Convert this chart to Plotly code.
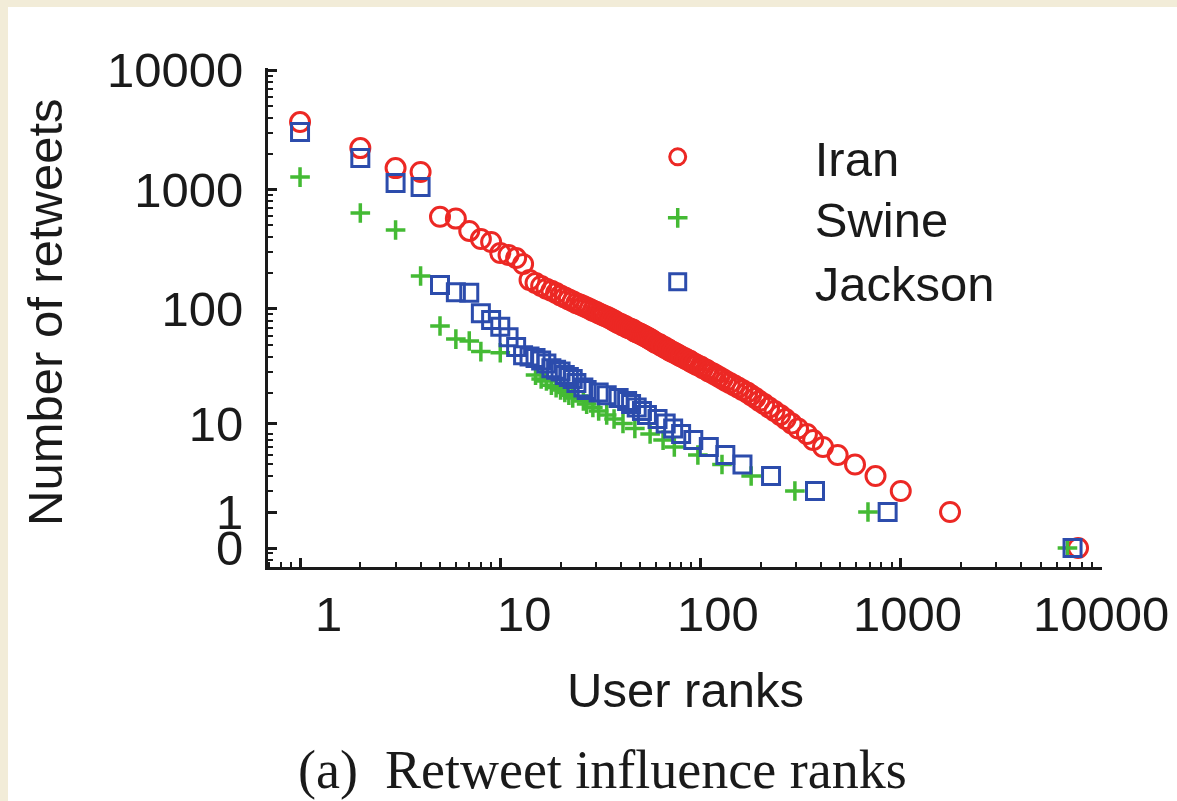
import numpy as np
import plotly.graph_objects as go

# ---------------- data ----------------
iran_rank = [1, 2, 3, 4, 5, 6, 7, 8, 9, 10, 11, 12, 13, 14, 15,
             16, 17, 18, 19, 20, 21, 22, 23, 24, 25, 26, 27, 28, 29, 30,
             31, 32, 33, 34, 35, 36, 37, 38, 39, 40, 41, 42, 43, 44, 45,
             46, 47, 48, 49, 50, 51, 52, 53, 54, 55, 56, 57, 58, 59, 60,
             62, 63, 64, 66, 67, 69, 70, 72, 74, 76, 78, 80, 83, 85, 88,
             90, 93, 96, 100, 103, 107, 110, 115, 119, 124, 129, 134, 140, 147, 154,
             162, 171, 179, 188, 197, 208, 220, 234, 250, 266, 285, 307, 340, 365,
             409, 484, 591, 748, 1000, 1762, 7680]
iran_count = [3670, 2220, 1510, 1400, 590, 570, 449, 384, 363, 293, 282, 266, 237, 174, 164,
              155, 147, 141, 135, 129, 124, 119, 115, 111, 108, 105, 102, 99, 96, 94,
              91, 89, 87, 85, 83, 81, 79, 77, 75, 74, 72, 71, 69, 68, 67,
              66, 64, 63, 62, 61, 60, 59, 58, 57, 56, 55, 54, 53, 52, 51,
              50, 49, 48, 47, 46, 45, 44, 43, 42, 41, 40, 39, 38, 37, 36,
              35, 34, 33, 32, 31, 30, 29, 28, 27, 26, 25, 24, 23, 22, 21,
              20, 19, 18, 17, 16, 15, 14, 13, 12, 11, 10, 9, 8, 7,
              6, 5, 4, 3, 2, 1, 0]

swine_rank = [1, 2, 3, 4, 5, 6, 7, 8, 10, 15, 16, 17, 18, 19, 20, 21, 22, 23,
              26, 27, 29, 31, 34, 37, 41, 47, 56, 65, 74, 97, 128, 179, 296, 686, 6800]
swine_count = [1270, 635, 457, 188, 71, 55, 53, 43, 42, 27, 25, 24, 22, 21, 20, 19, 18, 17,
               16, 15, 14, 13, 12, 11, 10, 9, 8, 7, 6, 5, 4, 3, 2, 1, 0]

jackson_rank = [1, 2, 3, 4, 5, 6, 7, 8, 9, 10, 11, 12, 13, 14, 15, 16, 17, 18, 19, 20,
                21, 22, 23, 24, 26, 27, 31, 34, 39, 43, 45, 48, 51, 54, 61, 67, 73, 80,
                92, 110, 133, 162, 225, 373, 860, 7210]
jackson_count = [3030, 1835, 1133, 1049, 158, 137, 136, 91, 80, 70, 57, 47, 40, 39, 38, 36, 34, 31, 30, 29,
                 27, 26, 25, 23, 21, 20, 19, 18, 17, 16, 15, 14, 13, 12, 11, 10, 9, 8,
                 7, 6, 5, 4, 3, 2, 1, 0]

x_tick_vals = [1, 10, 100, 1000, 10000]
x_tick_text = ["1", "10", "100", "1000", "10000"]
x_label_shift = [28, 24, 17, 7, 0]
y_tick_counts = [0, 1, 10, 100, 1000, 10000]
y_tick_text = ["0", "1", "10", "100", "1000", "10000"]

# ---------------- styling ----------------
SANS = "Liberation Sans, Arial, Helvetica, sans-serif"
SERIF = "Liberation Serif, Times New Roman, serif"
INK = "#1a1a1a"
RED = "rgb(236,40,36)"
GREEN = "rgb(68,186,52)"
BLUE = "rgb(44,76,172)"

fig = go.Figure()
# y axis is log(count+1)
fig.add_trace(go.Scatter(
    x=iran_rank, y=[c + 1 for c in iran_count], mode="markers", name="Iran", legend="legend",
    marker=dict(symbol="circle-open", size=19, color=RED, line=dict(width=3, color=RED))))
fig.add_trace(go.Scatter(
    x=swine_rank, y=[c + 1 for c in swine_count], mode="markers", name="Swine", legend="legend2",
    marker=dict(symbol="cross-thin-open", size=14, color=GREEN, line=dict(width=3.5, color=GREEN))))
fig.add_trace(go.Scatter(
    x=jackson_rank, y=[c + 1 for c in jackson_count], mode="markers", name="Jackson", legend="legend3",
    marker=dict(symbol="square-open", size=17, color=BLUE, line=dict(width=3, color=BLUE))))

x_minor = [m * 10 ** d for d in range(-1, 4) for m in range(2, 10) if m * 10 ** d > 0.69]
y_minor = [m * 10 ** d for d in range(-1, 4) for m in range(2, 10)
           if m * 10 ** d > 0.69 and not (d == 0 and m == 2)]

fig.update_xaxes(
    type="log", range=[-0.16, 4.005],
    tickvals=x_tick_vals, showticklabels=False,
    ticks="inside", ticklen=9, tickwidth=2.5, tickcolor=INK,
    showline=True, linewidth=3, linecolor=INK, mirror=False,
    showgrid=False, zeroline=False,
    minor=dict(tickvals=x_minor, ticks="inside", ticklen=5, tickwidth=2, tickcolor=INK, showgrid=False),
)
fig.update_yaxes(
    type="log", range=[-0.159, 4.017],
    tickvals=[c + 1 for c in y_tick_counts], ticktext=y_tick_text,
    ticks="inside", ticklen=9, tickwidth=2.5, tickcolor=INK,
    tickfont=dict(family=SANS, size=49, color=INK), ticklabelstandoff=12,
    showline=True, linewidth=3, linecolor=INK, mirror=False,
    showgrid=False, zeroline=False,
    minor=dict(tickvals=y_minor, ticks="inside", ticklen=5, tickwidth=2, tickcolor=INK, showgrid=False),
)

annotations = []
for v, t, s in zip(x_tick_vals, x_tick_text, x_label_shift):
    annotations.append(dict(x=np.log10(v), y=0, xref="x", yref="paper", text=t,
                            showarrow=False, xanchor="center", yanchor="top",
                            xshift=s, yshift=-18,
                            font=dict(family=SANS, size=49, color=INK)))
annotations.append(dict(x=0.5, y=-0.2465, xref="paper", yref="paper", text="User ranks",
                        showarrow=False, xanchor="center", yanchor="middle",
                        font=dict(family=SANS, size=49, color=INK)))
annotations.append(dict(x=(45 - 268) / 834, y=0.511, xref="paper", yref="paper",
                        text="Number of retweets", textangle=-90,
                        showarrow=False, xanchor="center", yanchor="middle",
                        font=dict(family=SANS, size=49, color=INK)))
annotations.append(dict(x=(602 - 268) / 834, y=(567 - 770) / 499, xref="paper", yref="paper",
                        text="(a)  Retweet influence ranks",
                        showarrow=False, xanchor="center", yanchor="middle",
                        font=dict(family=SERIF, size=54, color=INK)))

legend_common = dict(xanchor="left", yanchor="middle",
                     font=dict(family=SANS, size=49, color=INK),
                     itemwidth=264, bgcolor="rgba(0,0,0,0)", borderwidth=0,
                     itemsizing="trace")

fig.update_layout(
    width=1177, height=801,
    margin=dict(l=268, r=75, t=68, b=234),
    paper_bgcolor="#F2ECD8", plot_bgcolor="white",
    showlegend=True,
    legend=dict(x=0.327, y=(567 - 157) / 499, **legend_common),
    legend2=dict(x=0.327, y=(567 - 218) / 499, **legend_common),
    legend3=dict(x=0.327, y=(567 - 282) / 499, **legend_common),
    annotations=annotations,
    shapes=[dict(type="rect", xref="paper", yref="paper", layer="below",
                 x0=(8 - 268) / 834, x1=1.2, y0=-0.6, y1=(567 - 7) / 499,
                 fillcolor="white", line=dict(width=0))],
)

fig.write_html("out.html")
